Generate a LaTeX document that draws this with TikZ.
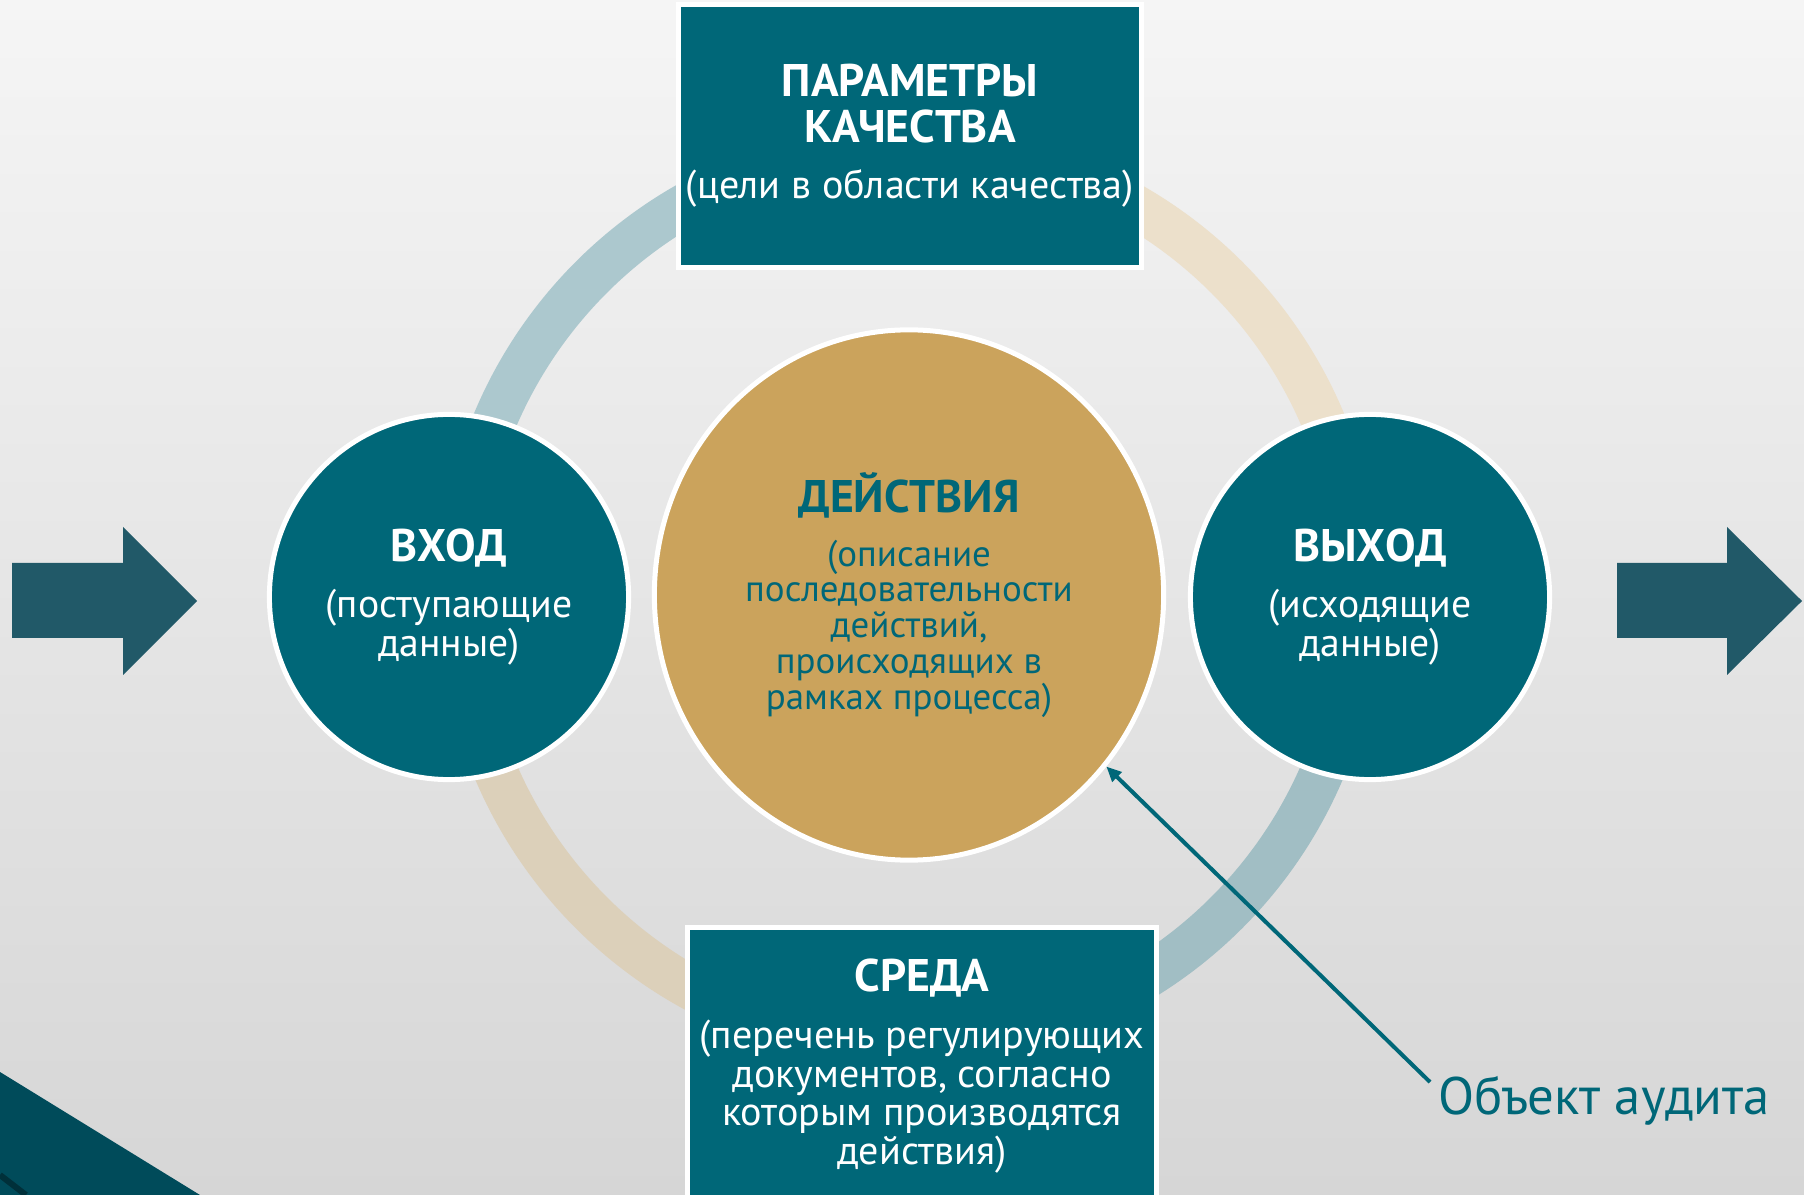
\documentclass[tikz,border=0pt]{standalone}
\usepackage{fontspec}
\setmainfont{PT Sans}
\definecolor{procteal}{RGB}{0, 103, 120}
\definecolor{procgold}{RGB}{203, 163, 92}
\definecolor{flowarrow}{RGB}{33, 89, 104}
\definecolor{ringblue}{RGB}{172, 200, 206}
\definecolor{ringblue2}{RGB}{161, 190, 196}
\definecolor{ringsand}{RGB}{236, 224, 203}
\definecolor{ringsand2}{RGB}{220, 208, 186}
\definecolor{cornerteal}{RGB}{0, 75, 90}
\definecolor{cornerdark}{RGB}{0, 48, 58}
\definecolor{bgtop}{RGB}{245, 245, 245}
\definecolor{bgmid}{RGB}{239, 239, 239}
\definecolor{bgbottom}{RGB}{214, 214, 214}
\usetikzlibrary{arrows.meta, positioning, shapes.geometric}
\newcommand{\stagehead}[1]{{\bfseries\fontsize{13}{13}\selectfont #1}}
\lineskiplimit=-10pt

\begin{document}
\begin{tikzpicture}[x=0.01cm, y=-0.01cm,
  stage/.style={ellipse, draw=white, line width=0.05cm, fill=procteal, text=white,
                align=center, inner sep=0pt, font=\fontsize{11.3}{11}\selectfont},
  panel/.style={rectangle, draw=white, line width=0.05cm, fill=procteal, text=white,
                align=center, inner sep=0pt, font=\fontsize{11.4}{11}\selectfont},
  ring/.style={line width=0.44cm},
  pointer/.style={draw=procteal, line width=0.04cm, -{Triangle[length=0.15cm, width=0.13cm]}},
]
\useasboundingbox (0,0) rectangle (1804,1195);
\shade[top color=bgtop, middle color=bgmid, bottom color=bgbottom] (0,0) rectangle (1804,1195);

% corner band
\fill[cornerteal] (0,1072) -- (200,1195) -- (0,1195) -- cycle;
\draw[cornerdark, line width=0.06cm] (0,1175) -- (26,1195);

% ring behind the stages
\coordinate (hub) at (909,595);
\draw[ring, ringblue]  ([shift={(90:4.49cm)}]hub)  arc[start angle=90,  end angle=180, radius=4.49cm];
\draw[ring, ringsand]  ([shift={(0:4.49cm)}]hub)   arc[start angle=0,   end angle=90,  radius=4.49cm];
\draw[ring, ringsand2] ([shift={(180:4.49cm)}]hub) arc[start angle=180, end angle=270, radius=4.49cm];
\draw[ring, ringblue2] ([shift={(270:4.49cm)}]hub) arc[start angle=270, end angle=360, radius=4.49cm];

% in / out arrows
\fill[flowarrow] (12,563) -- (123,563) -- (123,527) -- (197,601) -- (123,675) -- (123,638) -- (12,638) -- cycle;
\fill[flowarrow] (1617,563) -- (1727,563) -- (1727,527) -- (1802,601) -- (1727,675) -- (1727,638) -- (1617,638) -- cycle;

% stages
\node[stage, minimum width=3.59cm, minimum height=3.65cm] (input) at (449,597)
  {\stagehead{ВХОД}\\[4.9pt](поступающие\\данные)};
\node[stage, minimum width=3.59cm, minimum height=3.65cm] (output) at (1370,597)
  {\stagehead{ВЫХОД}\\[4.9pt](исходящие\\данные)};
\node[stage, fill=procgold, text=procteal, minimum width=5.09cm, minimum height=5.30cm,
      font=\fontsize{10.5}{10.2}\selectfont] (act) at (909,595)
  {\stagehead{ДЕЙСТВИЯ}\\[5.1pt](описание\\последовательности\\действий,\\происходящих в\\рамках процесса)};

% top and bottom panels
\node[panel, minimum width=4.63cm, minimum height=2.63cm] (quality) at (910,136)
  {\stagehead{ПАРАМЕТРЫ}\\[1.9pt]\stagehead{КАЧЕСТВА}\\[5.2pt](цели в области качества)};
\node[panel, minimum width=4.69cm, minimum height=2.77cm] (env) at (922,1066)
  {\stagehead{СРЕДА}\\[5.2pt](перечень регулирующих\\документов, согласно\\которым производятся\\действия)};

% audit object
\node[font=\fontsize{15}{15}\selectfont, text=procteal, anchor=base west,
      inner sep=0pt] (auditobj) at (1438,1114) {Объект аудита};
\draw[pointer] ([shift={(-8,7)}]auditobj.north west) -- (act.-41);
\end{tikzpicture}
\end{document}
